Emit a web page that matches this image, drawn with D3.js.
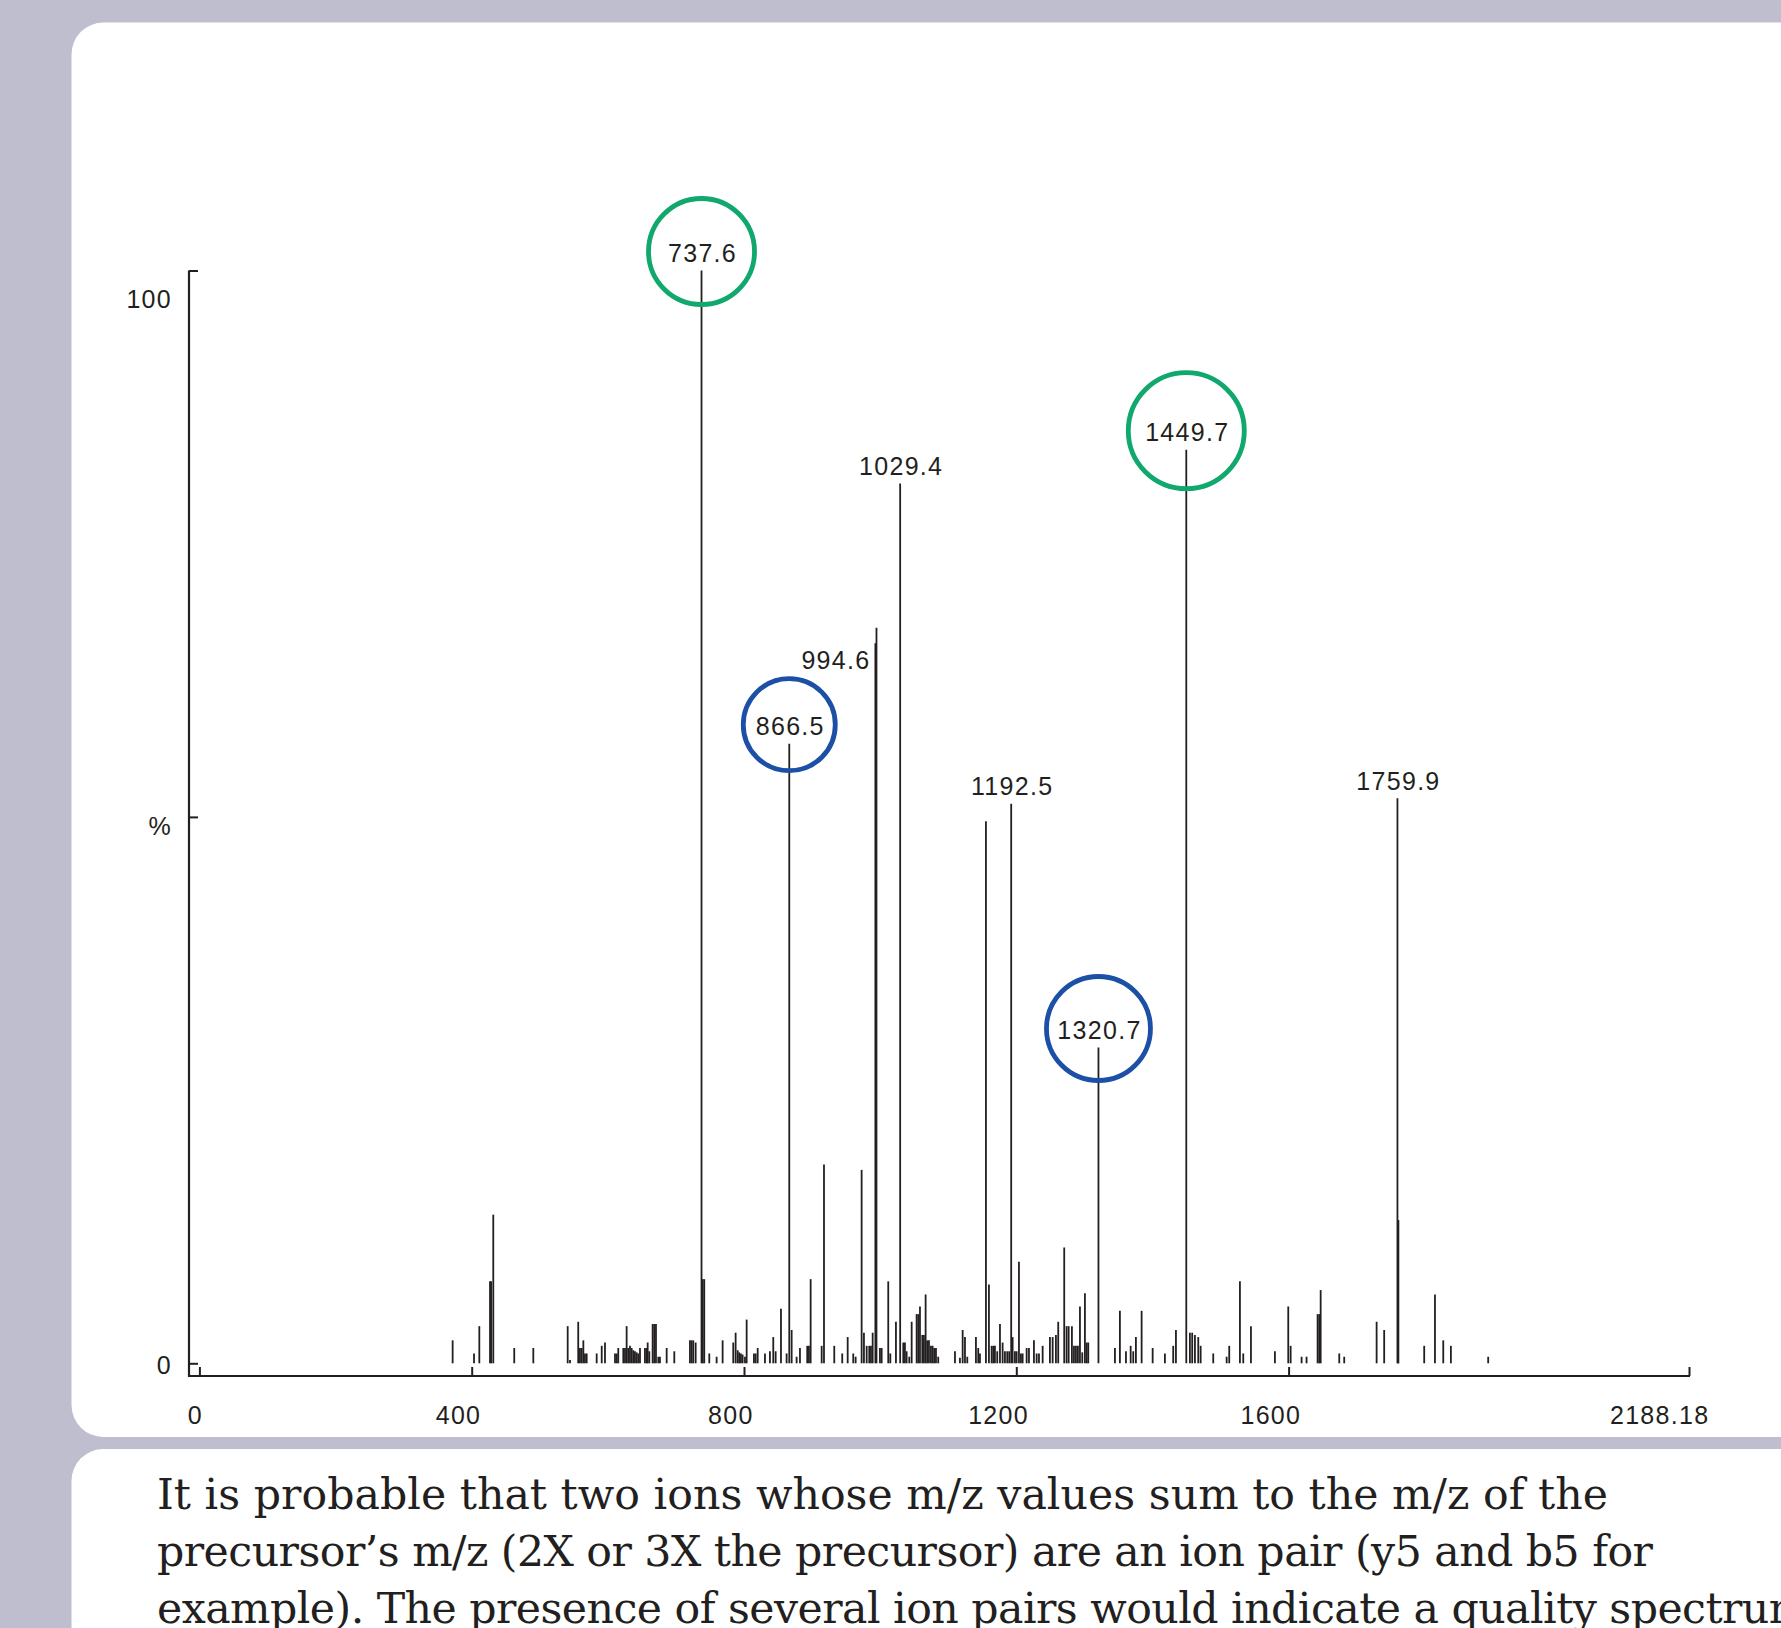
<!DOCTYPE html>
<html>
<head>
<meta charset="utf-8">
<script src="https://cdn.jsdelivr.net/npm/d3@7"></script>
<style>
  html, body { margin: 0; padding: 0; background: #bebece; overflow: hidden; }
  svg { display: block; }
</style>
</head>
<body>
<svg id="chart" width="1781" height="1628"></svg>
<script>
// ---------------- DATA ----------------
const peakMz = [372.0, 403.4, 411.2, 426.9, 428.5, 431.7, 462.5, 490.5, 541.0, 544.4, 556.5, 559.0, 561.5, 564.0, 566.4, 568.9, 583.6, 591.0, 595.8, 610.5, 613.0, 615.3, 622.7, 625.2, 627.6, 630.0, 632.5, 635.0, 637.4, 639.8, 642.3, 644.7, 647.2, 654.5, 657.0, 658.5, 660.9, 665.8, 668.2, 670.7, 674.1, 676.5, 686.4, 697.6, 720.6, 723.1, 725.5, 729.0, 737.6, 739.3, 741.6, 749.0, 759.8, 768.6, 784.2, 787.7, 790.7, 793.0, 795.5, 798.0, 801.4, 803.9, 814.6, 817.1, 820.1, 830.8, 838.1, 843.0, 846.5, 854.3, 862.6, 866.5, 870.0, 877.3, 882.2, 892.9, 895.4, 897.9, 914.1, 917.5, 932.6, 944.3, 952.3, 960.5, 964.0, 972.8, 976.2, 980.2, 984.0, 986.5, 989.0, 993.0, 994.6, 999.7, 1002.2, 1011.9, 1014.9, 1023.2, 1029.4, 1034.0, 1036.4, 1038.9, 1042.8, 1046.3, 1053.6, 1056.0, 1058.5, 1061.9, 1064.3, 1066.8, 1069.2, 1071.7, 1074.6, 1077.1, 1079.5, 1082.0, 1085.3, 1109.9, 1117.2, 1121.2, 1124.6, 1128.0, 1140.7, 1144.1, 1146.6, 1155.4, 1159.8, 1163.8, 1166.2, 1168.6, 1172.0, 1176.0, 1179.9, 1183.3, 1186.7, 1189.6, 1192.5, 1194.6, 1198.0, 1200.5, 1203.9, 1206.8, 1209.3, 1215.2, 1218.6, 1225.9, 1229.9, 1233.3, 1238.7, 1249.4, 1253.4, 1258.2, 1261.6, 1270.4, 1273.9, 1276.9, 1281.7, 1284.7, 1287.6, 1290.5, 1293.5, 1296.9, 1300.8, 1303.3, 1305.7, 1320.7, 1344.9, 1352.2, 1361.1, 1368.0, 1371.8, 1375.7, 1384.1, 1400.3, 1418.3, 1430.5, 1434.5, 1449.7, 1455.0, 1458.4, 1462.4, 1467.3, 1470.8, 1489.3, 1509.0, 1512.8, 1528.5, 1533.4, 1544.7, 1579.9, 1599.5, 1603.0, 1619.1, 1626.4, 1642.6, 1645.0, 1647.1, 1674.4, 1681.7, 1729.3, 1740.4, 1759.9, 1760.6, 1761.3, 1799.2, 1815.0, 1827.2, 1838.4, 1893.2];
const peakIntensity = [2.1, 0.9, 3.4, 7.5, 7.5, 13.6, 1.4, 1.4, 3.4, 0.3, 3.8, 1.4, 1.4, 2.1, 0.9, 0.9, 0.9, 1.6, 1.9, 0.9, 0.9, 1.4, 1.4, 1.4, 3.4, 1.4, 1.6, 1.4, 1.2, 1.1, 1.0, 0.9, 1.4, 1.4, 1.4, 1.9, 1.1, 3.6, 3.6, 3.6, 0.6, 0.6, 1.4, 1.1, 2.1, 2.1, 2.1, 1.9, 100, 7.7, 7.7, 0.9, 0.6, 2.1, 1.9, 2.8, 1.2, 1.0, 0.9, 0.8, 0.6, 4.0, 0.9, 0.9, 1.4, 0.9, 1.1, 2.4, 1.1, 5.0, 0.9, 56.7, 3.05, 0.6, 1.4, 1.6, 1.6, 7.7, 1.6, 18.2, 1.6, 0.9, 2.4, 0.9, 0.6, 17.7, 2.8, 1.6, 1.6, 1.6, 2.8, 65.9, 67.3, 1.4, 1.4, 7.5, 0.9, 3.8, 80.5, 1.9, 1.9, 1.1, 0.6, 3.8, 4.5, 4.5, 5.2, 2.6, 2.6, 6.3, 2.1, 2.1, 1.6, 1.6, 1.4, 1.4, 0.6, 1.1, 0.5, 3.05, 2.4, 0.6, 2.4, 1.4, 0.9, 49.6, 7.2, 1.6, 1.6, 1.6, 1.1, 3.6, 1.9, 1.1, 1.1, 1.1, 51.2, 2.4, 1.1, 1.1, 9.3, 0.9, 0.9, 1.4, 1.4, 2.1, 0.9, 0.9, 1.6, 2.4, 2.4, 2.6, 3.8, 10.6, 3.4, 3.4, 3.4, 1.6, 1.6, 1.6, 5.2, 1.0, 6.4, 1.9, 1.9, 28.9, 1.4, 4.8, 1.1, 1.6, 1.1, 2.4, 4.8, 1.4, 0.9, 1.6, 3.05, 83.6, 2.8, 2.8, 2.6, 2.4, 1.6, 0.9, 0.6, 1.6, 7.5, 0.9, 3.4, 1.1, 5.2, 1.6, 0.6, 0.6, 4.5, 4.5, 6.7, 0.9, 0.6, 3.8, 3.05, 51.7, 13.1, 13.1, 1.6, 6.3, 2.1, 1.6, 0.6];

const labelledMz = [737.6, 866.5, 994.6, 1029.4, 1192.5, 1320.7, 1449.7, 1759.9];
const circledMz = [737.6, 1449.7, 866.5, 1320.7];
const circledGroup = ["pair1", "pair1", "pair2", "pair2"];

const xTickValues = [0, 400, 800, 1200, 1600, 2188.18];
const xTickLabels = ["0", "400", "800", "1200", "1600", "2188.18"];
const yTickValues = [0, 50, 100];
const yTickLabels = ["0", "%", "100"];

const caption = [
  "It is probable that two ions whose m/z values sum to the m/z of the",
  "precursor\u2019s m/z (2X or 3X the precursor) are an ion pair (y5 and b5 for",
  "example). The presence of several ion pairs would indicate a quality spectrum."
];

// ---------------- STYLE / LAYOUT ----------------
const ink = "#231f20";
const groupColor = { pair1: "#10a86c", pair2: "#1c4fa6" };
const circleRadius = { "737.6": 53, "1449.7": 58, "866.5": 46, "1320.7": 52 };
const labelFont = "'Liberation Sans', Arial, sans-serif";

const svg = d3.select("#chart");

// panels
svg.append("rect").attr("x", 71.5).attr("y", 22.5).attr("width", 1781).attr("height", 1437 - 22.5)
  .attr("rx", 32).attr("ry", 32).attr("fill", "#ffffff");
svg.append("rect").attr("x", 71.5).attr("y", 1449).attr("width", 1781).attr("height", 400)
  .attr("rx", 32).attr("ry", 32).attr("fill", "#ffffff");

const x = d3.scaleLinear().domain([0, 2188.18]).range([199.4, 1689]);
const y = d3.scaleLinear().domain([0, 100]).range([1363.3, 270.5]);

const axisX0 = 189, axisY0 = 1376;

// peaks
const peaks = peakMz.map((m, i) => ({ mz: m, v: peakIntensity[i] }));
svg.append("g").selectAll("line").data(peaks).join("line")
  .attr("x1", d => x(d.mz)).attr("x2", d => x(d.mz))
  .attr("y1", y(0)).attr("y2", d => y(d.v))
  .attr("stroke", ink).attr("stroke-width", 1.8);

// axes lines
svg.append("line").attr("x1", axisX0).attr("x2", axisX0).attr("y1", y(100)).attr("y2", axisY0 + 1)
  .attr("stroke", ink).attr("stroke-width", 2.2);
svg.append("line").attr("x1", axisX0).attr("x2", x(2188.18) + 1).attr("y1", axisY0).attr("y2", axisY0)
  .attr("stroke", ink).attr("stroke-width", 2.2);

// x axis ticks
const xAxis = d3.axisBottom(x).tickValues(xTickValues).tickSizeInner(-9).tickSizeOuter(0)
  .tickPadding(30).tickFormat((d, i) => xTickLabels[i]);
const gx = svg.append("g").attr("transform", `translate(0,${axisY0})`).call(xAxis);
gx.select(".domain").remove();
gx.selectAll(".tick line").attr("stroke", ink).attr("stroke-width", 2);
gx.selectAll(".tick text").attr("fill", ink).style("font-family", labelFont)
  .style("font-size", "25px").style("letter-spacing", "1.3px")
  .attr("text-anchor", "start").attr("dy", "0.71em");
gx.selectAll(".tick text").each(function () {
  const w = this.getComputedTextLength();
  d3.select(this).attr("x", -0.8 * w);
});

// y axis ticks
const yAxis = d3.axisRight(y).tickValues(yTickValues).tickSize(9).tickFormat("");
const gy = svg.append("g").attr("transform", `translate(${axisX0},0)`).call(yAxis);
gy.select(".domain").remove();
gy.selectAll(".tick line").attr("stroke", ink).attr("stroke-width", 2);
const yLabelShift = { "0": 2, "%": 9, "100": 28 };
svg.append("g").selectAll("text").data(yTickValues).join("text")
  .attr("x", 172)
  .attr("y", (d, i) => y(d) + yLabelShift[yTickLabels[i]])
  .attr("dy", "0.36em")
  .attr("text-anchor", "end")
  .attr("fill", ink)
  .style("font-family", labelFont).style("font-size", "25px").style("letter-spacing", "1.3px")
  .text((d, i) => yTickLabels[i]);

// peak labels
const valueOf = m => peakIntensity[peakMz.indexOf(m)];
const labelG = svg.append("g");
labelledMz.forEach(m => {
  const px = x(m), top = y(valueOf(m));
  const t = labelG.append("text")
    .attr("fill", ink).style("font-family", labelFont).style("font-size", "25px")
    .style("letter-spacing", "1.3px").text(m.toFixed(1));
  if (m === 994.6) {
    t.attr("x", px - 6).attr("y", top + 32).attr("dy", "0.36em").attr("text-anchor", "end");
  } else {
    t.attr("x", px + 1).attr("y", top - 17.5).attr("dy", "0.36em").attr("text-anchor", "middle");
  }
});

// circles
svg.append("g").selectAll("circle").data(circledMz).join("circle")
  .attr("cx", d => x(d))
  .attr("cy", d => y(valueOf(d)) - 19)
  .attr("r", d => circleRadius[d.toFixed(1)])
  .attr("fill", "none")
  .attr("stroke", (d, i) => groupColor[circledGroup[i]])
  .attr("stroke-width", 4.8);

// caption
const cap = svg.append("g").selectAll("text").data(caption).join("text")
  .attr("x", 157)
  .attr("y", (d, i) => 1509 + i * 57)
  .attr("fill", ink)
  .style("font-family", "'DejaVu Serif', serif")
  .style("font-size", "40px")
  .text(d => d);
const w0 = cap.nodes()[0].getComputedTextLength();
const fs = 40 * 1451 / w0;
cap.style("font-size", fs + "px");
const capWidths = [1451, 1496, null];
cap.each(function (d, i) {
  const natural = this.getComputedTextLength();
  const target = capWidths[i] || natural * 0.975;
  d3.select(this).attr("textLength", target).attr("lengthAdjust", "spacing");
});
</script>
</body>
</html>
